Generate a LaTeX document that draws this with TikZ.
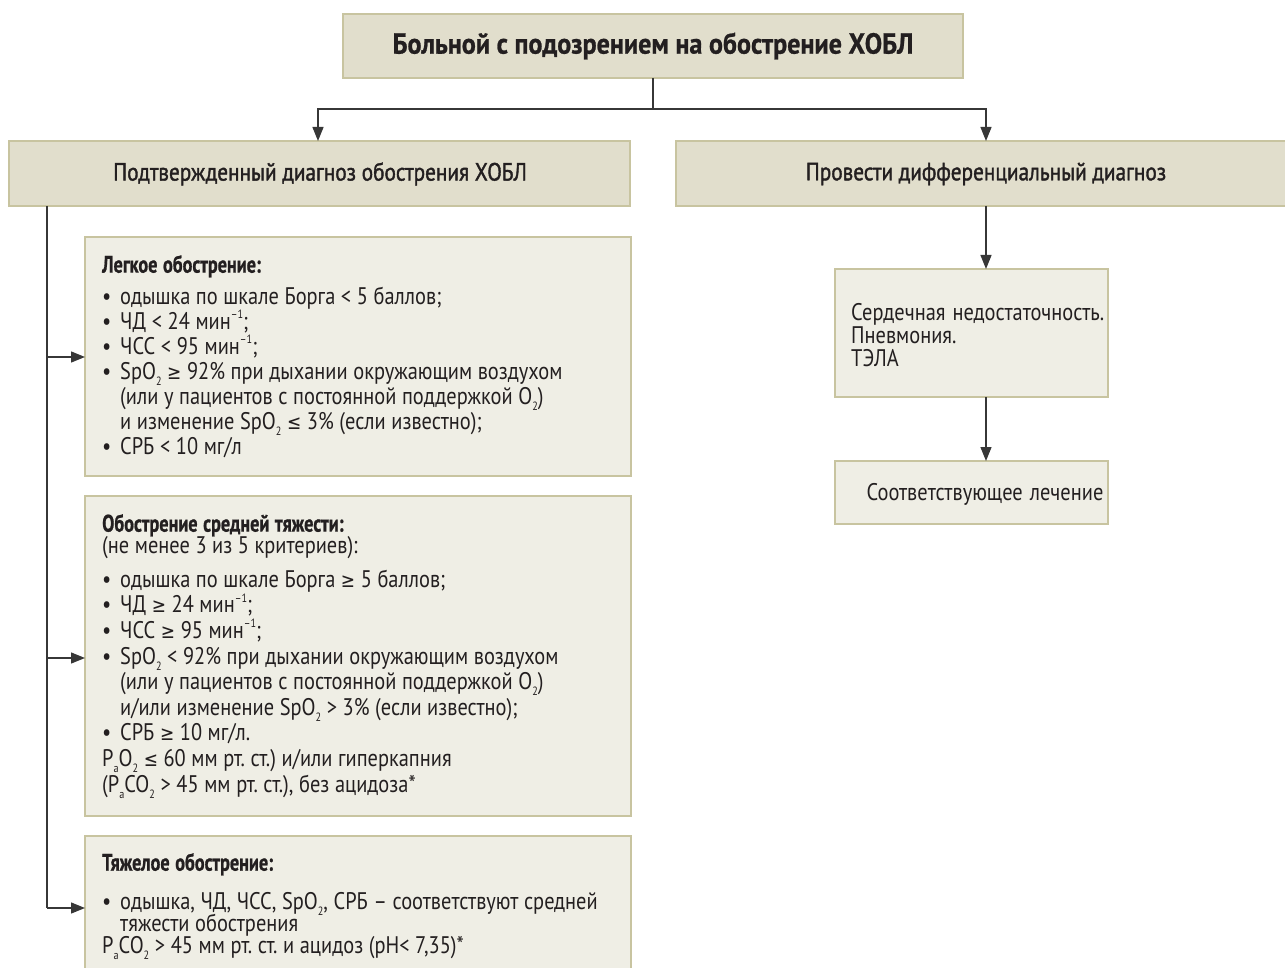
\documentclass[tikz,border=0pt]{standalone}
\usepackage{fontspec}
\setmainfont[FakeStretch=0.85,WordSpace=1.3]{PT Sans}
\newfontfamily\medf[FakeStretch=0.85,FakeBold=1.5]{PT Sans}
\newfontfamily\hdf[FakeStretch=0.76,FakeBold=0.8]{PT Sans}
\newfontfamily\titf[FakeStretch=0.9,FakeBold=0.8]{PT Sans}
\newfontfamily\symf[FakeStretch=0.85]{DejaVu Sans}
\usetikzlibrary{arrows.meta}
\definecolor{darkfill}{RGB}{225,222,204}
\definecolor{lightfill}{RGB}{239,238,229}
\definecolor{boxline}{RGB}{200,196,160}
\definecolor{ink}{RGB}{35,31,32}
\definecolor{wire}{RGB}{55,55,55}
\newcommand\bul{\par\hangindent=18pt\hangafter=1\noindent\makebox[18pt][l]{•}}
\newcommand\lo[1]{\raisebox{-0.5ex}{\fontsize{12}{12}\selectfont #1}}
\newcommand\hi[1]{\raisebox{0.9ex}{\fontsize{12}{12}\selectfont #1}}
\newcommand\mygeq{{\symf\fontsize{20}{20}\selectfont ≥}}
\newcommand\myleq{{\symf\fontsize{20}{20}\selectfont ≤}}
\newcommand\hd[1]{{\hdf\bfseries #1}}
\newcommand\parasetup[1]{\fontsize{24}{#1}\selectfont\frenchspacing\lineskiplimit=-100pt\relax\raggedright\spaceskip=5.6pt plus 2pt minus 1pt\relax}
\tikzset{
  darkbox/.style={draw=boxline, line width=1.6pt, fill=darkfill},
  lightbox/.style={draw=boxline, line width=1.6pt, fill=lightfill},
  txt/.style={text=ink, inner sep=0pt, align=left, font=\fontsize{24}{23}\selectfont},
  para/.style={text=ink, inner sep=0pt, anchor=north west, text width=525pt},
  conn/.style={draw=wire, line width=1.3pt},
  arr/.style={conn, -{Triangle[length=14pt,width=11pt]}}
}
\begin{document}
\begin{tikzpicture}[x=1pt,y=-1pt]
\useasboundingbox (0,0) rectangle (1285,968);
% boxes
\draw[darkbox] (343,14) rectangle (963,78);
\node[txt, font=\fontsize{29}{30}\selectfont\titf\bfseries] (top) at (653,46) {Больной с подозрением на обострение ХОБЛ};
\draw[darkbox] (9,141) rectangle (630,206);
\node[txt, font=\fontsize{25}{25}\selectfont\medf] (conf) at (320,174) {Подтвержденный диагноз обострения ХОБЛ};
\draw[darkbox] (676,141) rectangle (1292,206);
\node[txt, font=\fontsize{25}{25}\selectfont\medf] (diff) at (986,174) {Провести дифференциальный диагноз};
\coordinate (topb) at (653,78);
\coordinate (split) at (653,109);
\coordinate (confT) at (318,141);
\coordinate (diffT) at (986,141);
\draw[conn] (topb) -- (split);
\draw[arr] (split) -| (confT);
\draw[arr] (split) -| (diffT);

% left column boxes
\draw[lightbox] (85,237) rectangle (631,476);
\draw[lightbox] (85,496) rectangle (631,816);
\draw[lightbox] (85,836) rectangle (631,980);
\coordinate (b1) at (85,357);
\coordinate (b2) at (85,658);
\coordinate (b3) at (85,908);
\coordinate (confB) at (47,206);
\coordinate (c1) at (47,357);
\coordinate (c2) at (47,658);
\coordinate (c3) at (47,908);
\draw[conn] (confB) -- (c3);
\draw[arr] (c1) -- (b1);
\draw[arr] (c2) -- (b2);
\draw[arr] (c3) -- (b3);

\node[para] (mild) at (102,255) {\parasetup{25}%
\hd{Легкое обострение:}\par\vspace{7pt}
\bul одышка по шкале Борга < 5 баллов;
\bul ЧД < 24 мин\hi{–1};
\bul ЧСС < 95 мин\hi{–1};
\bul SpO\lo{2} \mygeq{} 92\% при дыхании окружающим воздухом\newline
(или у пациентов с постоянной поддержкой O\lo{2})\newline
и изменение SpO\lo{2} \myleq{} 3\% (если известно);
\bul СРБ < 10 мг/л\par};

\node[para] (moder) at (102,514) {\parasetup{25.6}%
\hd{Обострение средней тяжести:}\par\vspace{-3.6pt}
(не менее 3 из 5 критериев):\par\vspace{8pt}
\bul одышка по шкале Борга \mygeq{} 5 баллов;
\bul ЧД \mygeq{} 24 мин\hi{–1};
\bul ЧСС \mygeq{} 95 мин\hi{–1};
\bul SpO\lo{2} < 92\% при дыхании окружающим воздухом\newline
(или у пациентов с постоянной поддержкой O\lo{2})\newline
и/или изменение SpO\lo{2} > 3\% (если известно);
\bul СРБ \mygeq{} 10 мг/л.\par\noindent
P\lo{a}O\lo{2} \myleq{} 60 мм рт. ст.) и/или гиперкапния\newline
(P\lo{a}CO\lo{2} > 45 мм рт. ст.), без ацидоза*\par};

\node[para] (sev) at (102,853) {\parasetup{22}%
\hd{Тяжелое обострение:}\par\vspace{17pt}
\bul одышка, ЧД, ЧСС, SpO\lo{2}, СРБ – соответствуют средней\newline
тяжести обострения\par\noindent
P\lo{a}CO\lo{2} > 45 мм рт. ст. и ацидоз (pH< 7,35)*\par};

% right column
\draw[lightbox] (835,269) rectangle (1108,397);
\node[txt, anchor=west] (dd) at (851,335) {Сердечная недостаточность.\\Пневмония.\\ТЭЛА};
\draw[lightbox] (835,461) rectangle (1108,524);
\node[txt] (treat) at (985,494) {Соответствующее лечение};
\coordinate (diffB) at (986,206);
\coordinate (ddT) at (986,269);
\coordinate (ddB) at (986,397);
\coordinate (trT) at (986,461);
\draw[arr] (diffB) -- (ddT);
\draw[arr] (ddB) -- (trT);
\end{tikzpicture}
\end{document}
